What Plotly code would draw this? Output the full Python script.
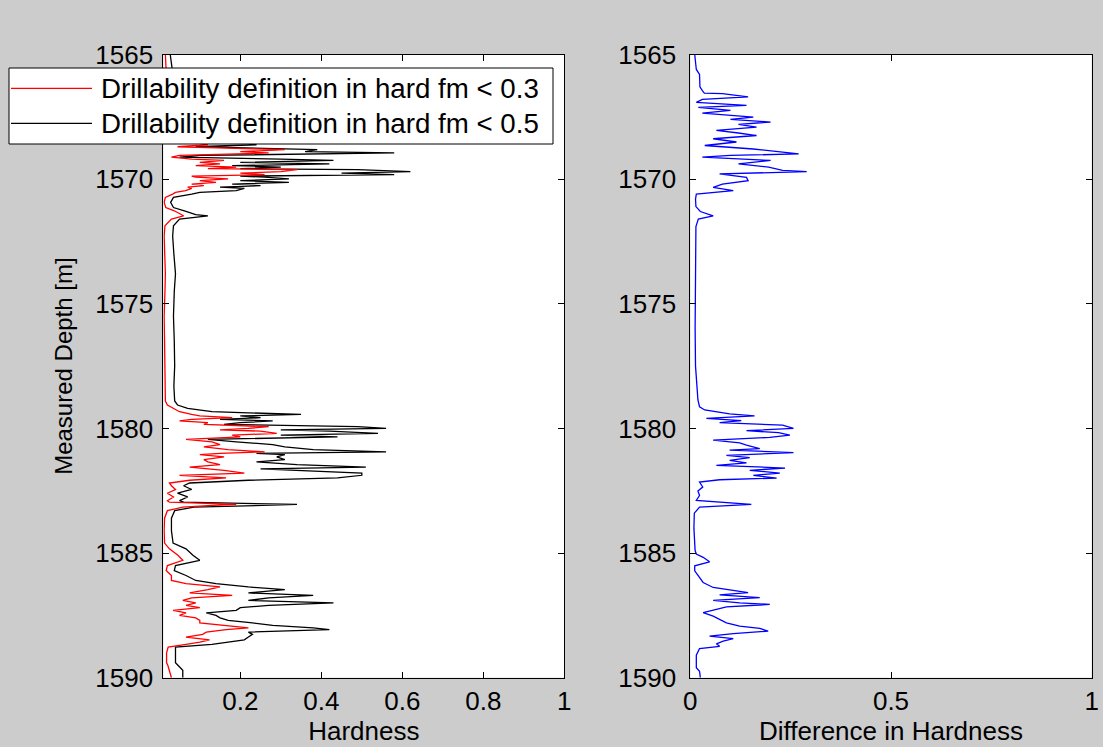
import plotly.graph_objects as go

# ---------------- data ----------------
depth_left = [
    1565.0, 1565.6, 1566.0, 1566.4, 1566.57, 1566.7, 1566.85, 1567.04, 1567.24, 1567.4,
    1567.51, 1567.71, 1567.91, 1568.04, 1568.25, 1568.38, 1568.51, 1568.62, 1568.7, 1568.82,
    1568.9, 1568.95, 1569.05, 1569.12, 1569.2, 1569.25, 1569.33, 1569.39, 1569.46, 1569.52,
    1569.58, 1569.62, 1569.7, 1569.76, 1569.82, 1569.88, 1569.92, 1569.99, 1570.06, 1570.13,
    1570.2, 1570.26, 1570.32, 1570.37, 1570.46, 1570.53, 1570.6, 1570.73, 1570.93, 1571.14,
    1571.27, 1571.42, 1571.47, 1571.6, 1571.87, 1572.28, 1573.0, 1573.8, 1574.5, 1575.5,
    1576.5, 1577.5, 1578.3, 1578.9, 1579.06, 1579.2, 1579.33, 1579.44, 1579.5, 1579.57,
    1579.64, 1579.7, 1579.77, 1579.84, 1579.93, 1580.0, 1580.06, 1580.11, 1580.2, 1580.27,
    1580.34, 1580.44, 1580.54, 1580.65, 1580.74, 1580.85, 1580.94, 1581.0, 1581.05, 1581.14,
    1581.25, 1581.34, 1581.45, 1581.55, 1581.62, 1581.68, 1581.79, 1581.88, 1581.98, 1582.08,
    1582.19, 1582.3, 1582.45, 1582.6, 1582.75, 1582.9, 1582.96, 1583.05, 1583.1, 1583.16,
    1583.3, 1583.6, 1584.1, 1584.6, 1584.83, 1585.09, 1585.29, 1585.5, 1585.7, 1585.9,
    1586.1, 1586.23, 1586.36, 1586.47, 1586.6, 1586.7, 1586.8, 1586.9, 1587.0, 1587.1,
    1587.19, 1587.3, 1587.4, 1587.5, 1587.6, 1587.7, 1587.8, 1587.9, 1588.0, 1588.07,
    1588.17, 1588.26, 1588.37, 1588.48, 1588.57, 1588.66, 1588.77, 1589.0, 1589.4, 1589.5,
    1589.7, 1590.0,
]

hardness_03 = [
    0.015, 0.016, 0.018, 0.02, 0.05, 0.09, 0.03, 0.10, 0.06, 0.12,
    0.10, 0.14, 0.09, 0.05, 0.11, 0.06, 0.08, 0.12, 0.045, 0.31,
    0.20, 0.27, 0.05, 0.03, 0.08, 0.16, 0.10, 0.15, 0.09, 0.19,
    0.12, 0.34, 0.30, 0.20, 0.26, 0.08, 0.09, 0.17, 0.10, 0.14,
    0.08, 0.11, 0.07, 0.08, 0.065, 0.04, 0.033, 0.015, 0.012, 0.016,
    0.037, 0.055, 0.06, 0.03, 0.014, 0.012, 0.013, 0.015, 0.014, 0.012,
    0.013, 0.014, 0.013, 0.015, 0.02, 0.035, 0.05, 0.08, 0.10, 0.18,
    0.08, 0.05, 0.12, 0.11, 0.27, 0.22, 0.15, 0.25, 0.29, 0.18,
    0.20, 0.066, 0.13, 0.15, 0.11, 0.17, 0.26, 0.15, 0.10, 0.16,
    0.11, 0.12, 0.15, 0.075, 0.12, 0.16, 0.21, 0.05, 0.165, 0.075,
    0.025, 0.03, 0.04, 0.02, 0.035, 0.02, 0.025, 0.19, 0.12, 0.058,
    0.02, 0.013, 0.012, 0.013, 0.025, 0.046, 0.058, 0.02, 0.017, 0.03,
    0.03, 0.066, 0.15, 0.12, 0.075, 0.18, 0.08, 0.058, 0.09, 0.066,
    0.10, 0.034, 0.066, 0.05, 0.09, 0.10, 0.10, 0.165, 0.22, 0.165,
    0.116, 0.107, 0.066, 0.124, 0.10, 0.066, 0.022, 0.018, 0.018, 0.021,
    0.025, 0.03,
]

hardness_05 = [
    0.027, 0.032, 0.042, 0.05, 0.13, 0.23, 0.05, 0.24, 0.16, 0.27,
    0.26, 0.34, 0.26, 0.11, 0.28, 0.12, 0.20, 0.24, 0.09, 0.39,
    0.36, 0.58, 0.10, 0.05, 0.30, 0.43, 0.20, 0.42, 0.18, 0.30,
    0.20, 0.49, 0.62, 0.45, 0.58, 0.20, 0.26, 0.32, 0.20, 0.32,
    0.18, 0.25, 0.15, 0.21, 0.19, 0.10, 0.08, 0.035, 0.028, 0.035,
    0.062, 0.09, 0.12, 0.05, 0.035, 0.033, 0.036, 0.04, 0.037, 0.035,
    0.037, 0.038, 0.036, 0.038, 0.045, 0.07, 0.13, 0.35, 0.20, 0.25,
    0.15, 0.28, 0.20, 0.16, 0.49, 0.56, 0.30, 0.42, 0.54, 0.30,
    0.44, 0.12, 0.19, 0.28, 0.31, 0.38, 0.56, 0.24, 0.31, 0.29,
    0.31, 0.24, 0.34, 0.51, 0.25, 0.33, 0.50, 0.50, 0.44, 0.22,
    0.075, 0.06, 0.08, 0.045, 0.07, 0.05, 0.06, 0.34, 0.20, 0.085,
    0.038, 0.03, 0.03, 0.034, 0.066, 0.083, 0.10, 0.04, 0.037, 0.066,
    0.09, 0.14, 0.22, 0.31, 0.22, 0.38, 0.27, 0.22, 0.43, 0.27,
    0.20, 0.19, 0.116, 0.14, 0.15, 0.17, 0.23, 0.28, 0.38, 0.42,
    0.22, 0.23, 0.22, 0.21, 0.17, 0.13, 0.04, 0.04, 0.04, 0.046,
    0.058, 0.058,
]

depth_diff = [
    1565.0, 1565.6, 1565.8, 1566.3, 1566.45, 1566.55, 1566.57, 1566.7, 1566.8, 1566.92,
    1567.04, 1567.12, 1567.24, 1567.35, 1567.51, 1567.6, 1567.71, 1567.8, 1567.91, 1568.04,
    1568.15, 1568.25, 1568.38, 1568.51, 1568.65, 1568.79, 1568.99, 1569.05, 1569.12, 1569.25,
    1569.39, 1569.52, 1569.65, 1569.7, 1569.79, 1569.93, 1570.06, 1570.2, 1570.33, 1570.46,
    1570.6, 1570.8, 1571.1, 1571.3, 1571.47, 1571.6, 1571.9, 1573.0, 1574.5, 1576.0,
    1577.5, 1578.86, 1579.13, 1579.26, 1579.42, 1579.5, 1579.6, 1579.69, 1579.77, 1579.87,
    1580.0, 1580.09, 1580.17, 1580.27, 1580.36, 1580.47, 1580.58, 1580.67, 1580.81, 1580.87,
    1580.97, 1581.08, 1581.17, 1581.28, 1581.38, 1581.48, 1581.59, 1581.68, 1581.79, 1581.88,
    1581.99, 1582.06, 1582.15, 1582.35, 1582.51, 1582.69, 1582.89, 1583.0, 1583.05, 1583.16,
    1583.4, 1584.0, 1584.9, 1585.04, 1585.17, 1585.35, 1585.51, 1585.71, 1585.91, 1586.18,
    1586.38, 1586.49, 1586.59, 1586.68, 1586.79, 1586.9, 1587.0, 1587.06, 1587.16, 1587.26,
    1587.39, 1587.53, 1587.66, 1587.8, 1587.93, 1588.02, 1588.13, 1588.23, 1588.33, 1588.43,
    1588.53, 1588.64, 1588.74, 1588.83, 1589.1, 1589.6, 1589.74, 1590.0,
]

hardness_diff = [
    0.011, 0.015, 0.023, 0.024, 0.03, 0.035, 0.08, 0.144, 0.03, 0.015,
    0.14, 0.02, 0.10, 0.03, 0.157, 0.10, 0.20, 0.12, 0.165, 0.065,
    0.12, 0.165, 0.057, 0.115, 0.036, 0.157, 0.27, 0.10, 0.03, 0.20,
    0.12, 0.195, 0.23, 0.29, 0.073, 0.14, 0.144, 0.08, 0.057, 0.107,
    0.015, 0.013, 0.014, 0.025, 0.057, 0.02, 0.014, 0.013, 0.012, 0.012,
    0.013, 0.019, 0.023, 0.036, 0.098, 0.16, 0.04, 0.127, 0.073, 0.23,
    0.257, 0.14, 0.22, 0.248, 0.198, 0.057, 0.123, 0.14, 0.173, 0.098,
    0.257, 0.09, 0.148, 0.098, 0.14, 0.065, 0.236, 0.148, 0.223, 0.157,
    0.215, 0.073, 0.023, 0.031, 0.019, 0.023, 0.015, 0.098, 0.152, 0.023,
    0.01, 0.009, 0.012, 0.015, 0.032, 0.048, 0.011, 0.011, 0.019, 0.032,
    0.057, 0.107, 0.144, 0.073, 0.173, 0.057, 0.123, 0.198, 0.09, 0.065,
    0.032, 0.057, 0.073, 0.09, 0.123, 0.173, 0.194, 0.107, 0.048, 0.107,
    0.082, 0.065, 0.073, 0.023, 0.015, 0.015, 0.023, 0.025,
]

left_ticks = [0.2, 0.4, 0.6, 0.8, 1]
left_ticktext = ["0.2", "0.4", "0.6", "0.8", "1"]
right_ticks = [0, 0.5, 1]
right_ticktext = ["0", "0.5", "1"]
depth_ticks = [1565, 1570, 1575, 1580, 1585, 1590]

legend_labels = ["Drillability definition in hard fm < 0.3",
                 "Drillability definition in hard fm < 0.5"]

# ---------------- figure ----------------
W, H = 1103, 747
FONT = "Liberation Sans, Arial, sans-serif"

fig = go.Figure()
fig.add_trace(go.Scatter(x=hardness_05, y=depth_left, mode="lines",
                         line=dict(color="#000000", width=1.3),
                         name=legend_labels[1], showlegend=False,
                         xaxis="x", yaxis="y"))
fig.add_trace(go.Scatter(x=hardness_03, y=depth_left, mode="lines",
                         line=dict(color="#ff0000", width=1.3),
                         name=legend_labels[0], showlegend=False,
                         xaxis="x", yaxis="y"))
fig.add_trace(go.Scatter(x=hardness_diff, y=depth_diff, mode="lines",
                         line=dict(color="#0000ff", width=1.3),
                         name="Difference", showlegend=False,
                         xaxis="x2", yaxis="y2"))

ax_common = dict(showline=True, linecolor="black", linewidth=1, mirror="ticks",
                 ticks="inside", ticklen=6, tickcolor="black", showgrid=False,
                 zeroline=False, automargin=False,
                 tickfont=dict(family=FONT, size=26, color="black"))

y_top = 1 - 54.5 / H
y_bot = 1 - 677.7 / H

fig.update_layout(
    width=W, height=H, autosize=False,
    margin=dict(l=0, r=0, t=0, b=0, pad=0),
    paper_bgcolor="#cccccc", plot_bgcolor="white",
    font=dict(family=FONT, color="black"),
    xaxis=dict(domain=[163.3 / W, 564.3 / W], range=[0.0099, 1], anchor="y",
               tickvals=left_ticks, ticktext=left_ticktext,
               title=dict(text="Hardness", font=dict(size=26), standoff=3),
               **ax_common),
    yaxis=dict(domain=[y_bot, y_top], range=[1590, 1565], anchor="x",
               tickvals=depth_ticks, ticklabelstandoff=4,
               title=dict(text="Measured Depth [m]", font=dict(size=24)),
               **ax_common),
    xaxis2=dict(domain=[690.3 / W, 1091.7 / W], range=[0, 1], anchor="y2",
                tickvals=right_ticks, ticktext=right_ticktext,
                title=dict(text="Difference in Hardness", font=dict(size=26), standoff=3),
                **ax_common),
    yaxis2=dict(domain=[y_bot, y_top], range=[1590, 1565], anchor="x2",
                tickvals=depth_ticks, ticklabelstandoff=8, **ax_common),
)

# legend box (drawn manually to match the MATLAB legend look)
lx0, lx1 = 9 / W, 553 / W
ly0, ly1 = 1 - 144 / H, 1 - 68 / H
fig.add_shape(type="rect", xref="paper", yref="paper", x0=lx0, x1=lx1, y0=ly0, y1=ly1,
              fillcolor="white", line=dict(color="black", width=1), layer="above")
row_y = [1 - 88.3 / H, 1 - 123.3 / H]
row_col = ["#ff0000", "#000000"]
for yy, col, lab in zip(row_y, row_col, legend_labels):
    fig.add_shape(type="line", xref="paper", yref="paper", x0=11 / W, x1=92 / W,
                  y0=yy, y1=yy, line=dict(color=col, width=1.3), layer="above")
    fig.add_annotation(xref="paper", yref="paper", x=99 / W, y=yy, text=lab,
                       showarrow=False, xanchor="left", yanchor="middle",
                       font=dict(family=FONT, size=27.7, color="black"))

fig.write_html("out.html", config={"displayModeBar": False},
               post_script="document.body.style.margin='0';")
